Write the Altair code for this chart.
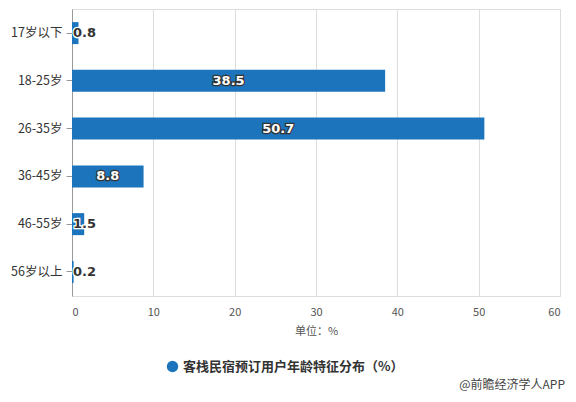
import altair as alt
import pandas as pd

categories = ["17岁以下", "18-25岁", "26-35岁", "36-45岁", "46-55岁", "56岁以上"]
values = [0.8, 38.5, 50.7, 8.8, 1.5, 0.2]
series = "客栈民宿预订用户年龄特征分布（%）"
x_ticks = [0, 10, 20, 30, 40, 50, 60]

df = pd.DataFrame({"cat": categories, "v": values, "s": series})

FONT = "Noto Sans CJK SC"
BLUE = "#1c75bc"

y_enc = alt.Y("cat:N", sort=categories, title=None,
              scale=alt.Scale(paddingInner=0.53, paddingOuter=0.27),
              axis=alt.Axis(labelFont=FONT, labelFontSize=12.5, labelColor="#333",
                            domainColor="#999", tickColor="#999", tickSize=6,
                            labelPadding=4, grid=False))
x_enc = alt.X("v:Q", title="单位：%",
              scale=alt.Scale(domain=[0, 60], nice=False),
              axis=alt.Axis(values=x_ticks, labelFont=FONT, labelFontSize=11,
                            labelColor="#555", domain=False, ticks=False,
                            labelPadding=10, gridColor="#ddd",
                            titleFont=FONT, titleFontSize=11, titleFontWeight="normal",
                            titleColor="#555", titlePadding=8))

bars = alt.Chart(df).mark_bar(height=22).encode(
    y=y_enc, x=x_enc,
    color=alt.Color("s:N", scale=alt.Scale(range=[BLUE]), title=None,
                    legend=alt.Legend(orient="none", legendX=94, legendY=351,
                                      symbolType="circle", symbolSize=130,
                                      labelFont=FONT, labelFontSize=13,
                                      labelFontWeight="bold", labelColor="#333",
                                      labelLimit=400))
)

big = alt.Chart(df).transform_filter("datum.v > 5").transform_calculate(mid="datum.v/2")
small = alt.Chart(df).transform_filter("datum.v <= 5")

tfont = dict(font="DejaVu Sans", fontWeight="bold", fontSize=13)
big_outline = big.mark_text(stroke="#333", strokeWidth=2.5, fill="#333", **tfont).encode(
    y=alt.Y("cat:N", sort=categories), x=alt.X("mid:Q"), text=alt.Text("v:Q", format=".1f"))
big_text = big.mark_text(fill="white", **tfont).encode(
    y=alt.Y("cat:N", sort=categories), x=alt.X("mid:Q"), text=alt.Text("v:Q", format=".1f"))
small_outline = small.mark_text(align="left", dx=1, stroke="white", strokeWidth=2.5,
                                fill="white", **tfont).encode(
    y=alt.Y("cat:N", sort=categories), x=alt.datum(0), text=alt.Text("v:Q", format=".1f"))
small_text = small.mark_text(align="left", dx=1, fill="#333", **tfont).encode(
    y=alt.Y("cat:N", sort=categories), x=alt.datum(0), text=alt.Text("v:Q", format=".1f"))

credit = alt.Chart(pd.DataFrame({"t": ["@前瞻经济学人APP"]})).mark_text(
    align="right", font=FONT, fontSize=12, color="#444").encode(
    x=alt.value(493), y=alt.value(376), text="t:N")

chart = alt.layer(bars, big_outline, big_text, small_outline, small_text, credit).properties(
    width=488, height=287,
    autosize=alt.AutoSizeParams(type="none"),
    padding={"left": 64, "top": 1, "right": 8, "bottom": 98},
).configure_view(stroke=None).configure(background="white")

chart.save("out.html", embed_options={"renderer": "svg", "actions": False})
